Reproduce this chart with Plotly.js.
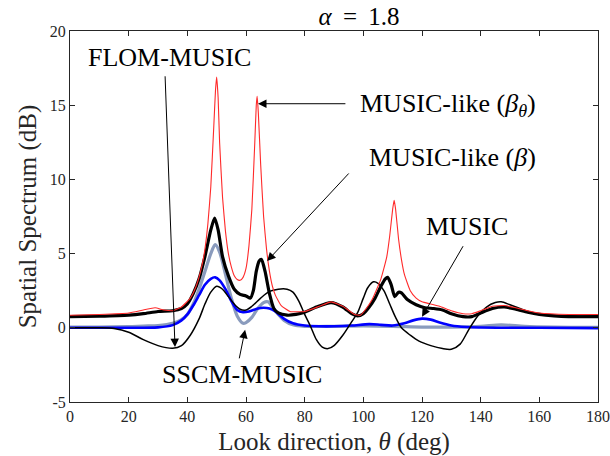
<!DOCTYPE html>
<html>
<head>
<meta charset="utf-8">
<script src="https://cdn.plot.ly/plotly-3.0.1.min.js"></script>
<style>html,body{margin:0;padding:0;background:#fff;}#chart{width:610px;height:456px;}</style>
</head>
<body>
<div id="chart"></div>
<script>
// MUSIC-like (beta_theta) — red thin
const redX = [0,10,20,25,29,32,35,38,41,43,45,46,47,48,49,49.6,50,50.5,51,52,53,54,55,56,57,58,59,60,61,62,63,63.5,63.8,64.2,65,66,67,68,69,70,72,75,80,85,89,93,97,99,101,103,105,106,107,108,109,110,110.5,111,112,113,114,116,118,120,123,126,130,134,137,140,144,148,152,156,160,170,180];
const redY = [0.85,0.9,1.0,1.2,1.35,1.2,1.15,1.4,2.0,2.8,4.2,5.3,7.0,9.5,13.5,16.0,16.9,15.5,12.5,8.8,6.5,5.0,4.1,3.5,3.25,3.2,3.4,4.0,5.5,8.0,12.5,15.0,15.6,14.5,11.0,7.5,5.3,3.8,2.8,2.2,1.5,1.1,1.1,1.45,1.75,1.45,0.9,0.85,1.3,1.9,2.8,3.3,4.0,4.8,6.2,8.0,8.6,8.0,6.0,4.6,3.6,2.5,2.0,1.75,1.6,1.45,1.15,0.95,0.95,1.15,1.45,1.5,1.35,1.15,1.0,0.9,0.9];

// MUSIC-like (beta) — black thick
const betaX = [0,10,20,25,30,35,38,40,42,44,46,48,49.3,50.5,52,54,56,58,60,61.5,62.5,63.5,64.5,65.3,66.5,68,69.5,71,74,77,80,84,89,93,96,98,100,102,104,106,107.5,108.3,109.5,110.7,112,113,115,118,121,124,127,130,134,137,140,144,148,152,156,160,165,170,180];
const betaY = [0.75,0.78,0.85,0.95,1.1,1.15,1.3,1.6,2.3,3.3,4.8,6.6,7.4,6.6,4.8,3.5,2.6,2.25,2.15,2.0,2.5,3.8,4.5,4.6,3.8,2.3,1.3,1.0,0.85,0.9,1.05,1.4,1.7,1.4,0.95,0.8,0.95,1.4,2.0,2.8,3.3,3.4,2.9,2.1,2.4,2.35,1.9,1.55,1.35,1.3,1.2,0.95,0.75,0.75,1.0,1.3,1.4,1.25,1.05,0.9,0.8,0.75,0.75];

// SSCM-MUSIC — gray thick
const sscmX = [0,10,20,25,30,35,38,40,42,44,46,48,49.5,51,53,55,57,59,60,62,64,66,67.5,69,71,73,76,80,90,100,110,120,130,140,147,155,165,180];
const sscmY = [0.05,0.05,0.08,0.12,0.15,0.3,0.55,0.9,1.6,2.6,3.8,5.0,5.6,5.1,3.6,2.0,0.8,0.3,0.35,0.7,1.3,1.7,1.75,1.4,0.9,0.5,0.2,0.1,0.1,0.12,0.1,0.05,0.05,0.1,0.2,0.1,0.05,0.03];

// MUSIC — blue thick
const musicX = [0,20,30,35,38,40,42,44,46,48,49.5,51,53,55,57,59,61,64,66,68,70,73,76,80,85,90,96,102,106,110,114,117,120,123,126,130,135,140,150,160,180];
const musicY = [0.0,0.0,0.03,0.18,0.5,0.9,1.5,2.2,2.9,3.3,3.4,3.2,2.6,1.8,1.2,1.05,1.1,1.3,1.35,1.3,1.1,0.6,0.3,0.15,0.1,0.1,0.15,0.25,0.2,0.15,0.3,0.5,0.62,0.55,0.35,0.15,0.05,0.02,0.0,0.0,-0.02];

// FLOM-MUSIC — black thin
const flomX = [0,10,15,20,25,30,35,38,41,44,46,48,50,52,54,56,58,60,62,65,68,71,74,76,78,80,82,84,86,88,90,93,96,98,100,101.5,103.5,105,107,109,111,113,116,119,123,127,130,133,136,139,142,145,147,150,154,158,165,180];
const flomY = [0.0,0.0,-0.05,-0.3,-0.8,-1.2,-1.38,-1.2,-0.5,0.6,1.6,2.4,2.8,2.6,2.1,1.6,1.25,1.2,1.45,2.0,2.45,2.6,2.6,2.4,1.8,0.9,0.1,-0.8,-1.3,-1.4,-1.2,-0.5,0.4,1.0,2.0,2.7,3.1,3.0,2.5,1.6,0.7,0.0,-0.5,-0.9,-1.2,-1.4,-1.45,-1.1,-0.1,0.8,1.4,1.7,1.75,1.55,1.25,1.0,0.85,0.8];

const xTicks = [0,20,40,60,80,100,120,140,160,180];
const yTicks = [-5,0,5,10,15,20];

const labels = ['FLOM-MUSIC','MUSIC-like (<i>β</i><sub><i>θ</i></sub>)','MUSIC-like (<i>β</i>)','MUSIC','SSCM-MUSIC'];
const labelX = [33.75,129.0,130.3,135.5,58.8];
const labelY = [18.2,15.03,11.46,6.8,-3.17];
const arrowHeadX = [35.8,64.1,67.2,120.0,59.7];
const arrowHeadY = [-1.3,15.1,4.5,0.74,-0.13];
const arrowTailX = [32.4,94.4,95.5,134.3,57.6];
const arrowTailY = [17.05,15.1,10.5,5.6,-2.16];

const FONT = "'Liberation Serif', 'Times New Roman', Times, serif";

const traces = [
  {x: sscmX, y: sscmY, mode:'lines', line:{color:'#8a9bbd', width:3.2, shape:'spline', smoothing:0.8}},
  {x: musicX, y: musicY, mode:'lines', line:{color:'#0000ff', width:2.6, shape:'spline', smoothing:0.8}},
  {x: flomX, y: flomY, mode:'lines', line:{color:'#000000', width:1.5, shape:'spline', smoothing:0.8}},
  {x: betaX, y: betaY, mode:'lines', line:{color:'#000000', width:3.2, shape:'spline', smoothing:0.6}},
  {x: redX, y: redY, mode:'lines', line:{color:'#ff2a2a', width:1.1, shape:'spline', smoothing:0.4}}
];

const annotations = [];
for (let i = 0; i < labels.length; i++) {
  annotations.push({x: labelX[i], y: labelY[i], xref:'x', yref:'y', text: labels[i], showarrow:false,
    xanchor:'center', yanchor:'middle', font:{family:FONT, size:26, color:'#000'}});
  annotations.push({x: arrowHeadX[i], y: arrowHeadY[i], ax: arrowTailX[i], ay: arrowTailY[i],
    xref:'x', yref:'y', axref:'x', ayref:'y', text:'', showarrow:true,
    arrowhead:2, arrowsize:1.7, arrowwidth:1, arrowcolor:'#000'});
}

const layout = {
  width:610, height:456,
  margin:{l:70, r:12, t:31, b:54},
  paper_bgcolor:'#fff', plot_bgcolor:'#fff',
  showlegend:false,
  font:{family:FONT, color:'#262626'},
  title:{text:'<i>α</i>\u2009\u00a0=\u00a0\u20091.8', x:0.5475, xanchor:'center', xref:'paper',
    y:0.965, yref:'container', yanchor:'middle', font:{family:FONT, size:25, color:'#000'}},
  xaxis:{range:[0,180], tickvals:xTicks, ticktext:xTicks.map(String), ticks:'inside', ticklen:5,
    tickcolor:'#262626', showline:true, linecolor:'#262626', linewidth:1, mirror:'ticks',
    showgrid:false, zeroline:false, tickfont:{family:FONT, size:16, color:'#262626'},
    title:{text:'Look direction, <i>θ</i> (deg)', font:{family:FONT, size:25, color:'#262626'}, standoff:8}},
  yaxis:{range:[-5,20], tickvals:yTicks, ticktext:yTicks.map(String), ticks:'inside', ticklen:5,
    tickcolor:'#262626', showline:true, linecolor:'#262626', linewidth:1, mirror:'ticks',
    showgrid:false, zeroline:false, tickfont:{family:FONT, size:16, color:'#262626'},
    title:{text:'Spatial Spectrum (dB)', font:{family:FONT, size:25, color:'#262626'}, standoff:6}},
  annotations: annotations
};

Plotly.newPlot('chart', traces, layout, {displayModeBar:false, staticPlot:true});
</script>
</body>
</html>
